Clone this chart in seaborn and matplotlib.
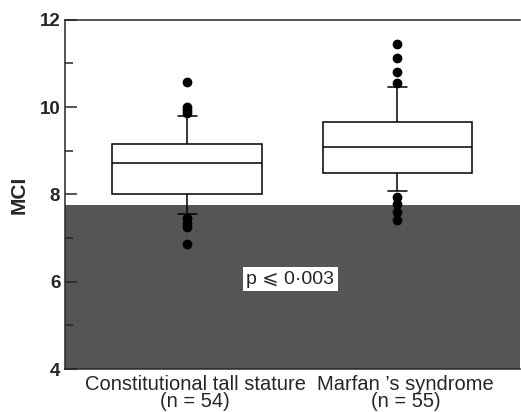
import numpy as np
import pandas as pd
import matplotlib
matplotlib.use("Agg")
import matplotlib.pyplot as plt
import matplotlib.transforms as mtransforms
import seaborn as sns

# 値は図から読み取った推定値（並べ替え済み、41点ずつ）
groups = ["Constitutional tall stature\n(n = 54)", "Marfan \u2019s syndrome\n(n = 55)"]

tall_stature = [
    6.86, 7.25, 7.35, 7.45,
    7.55,
    7.64, 7.74, 7.83, 7.90, 7.96,
    8.00,
    8.06, 8.14, 8.22, 8.30, 8.38, 8.46, 8.54, 8.61, 8.67,
    8.72,
    8.76, 8.80, 8.85, 8.90, 8.95, 9.00, 9.04, 9.08, 9.12,
    9.15,
    9.25, 9.36, 9.48, 9.60, 9.70,
    9.79,
    9.86, 9.93, 10.00, 10.58,
]

marfan = [
    7.42, 7.60, 7.78, 7.95,
    8.08,
    8.16, 8.24, 8.32, 8.39, 8.45,
    8.49,
    8.55, 8.61, 8.68, 8.74, 8.80, 8.87, 8.94, 9.00, 9.05,
    9.09,
    9.14, 9.20, 9.26, 9.32, 9.38, 9.44, 9.51, 9.57, 9.62,
    9.67,
    9.80, 9.93, 10.07, 10.21, 10.35,
    10.46,
    10.55, 10.81, 11.13, 11.44,
]

shade_top = 7.76
p_text = "p \u2a7d 0\u00b7003"

df = pd.DataFrame({
    "group": [groups[0]] * len(tall_stature) + [groups[1]] * len(marfan),
    "MCI": tall_stature + marfan,
})

sns.set_style("ticks")
plt.rcParams["font.family"] = ["Liberation Sans", "DejaVu Sans"]

fig = plt.figure(figsize=(5.21, 4.12), dpi=100)
ax = fig.add_axes([0.125, 0.104, 0.874, 0.848])

# 網掛け領域
ax.axhspan(4, shade_top, color="#555555", zorder=0, lw=0)

sns.boxplot(
    data=df, x="group", y="MCI", ax=ax,
    whis=(10, 90), width=0.71,
    color="white", linecolor="black", linewidth=1.1,
    flierprops=dict(marker="o", markerfacecolor="black",
                    markeredgecolor="black", markersize=6),
    capwidths=0.09,
)

ax.set_xlim(-0.58, 1.585)
ax.set_ylim(4, 12)
ax.set_yticks([4, 6, 8, 10, 12])
ax.set_yticks([5, 7, 9, 11], minor=True)
ax.tick_params(axis="y", which="major", direction="in", length=8.5, width=1.1,
               labelsize=13.5)
ax.tick_params(axis="y", which="minor", direction="in", length=5.5, width=1.1)
for lab in ax.get_yticklabels():
    lab.set_fontweight("bold")
ax.tick_params(axis="x", length=0, labelsize=14.5, pad=4)
shift = mtransforms.ScaledTranslation(0.08, 0, fig.dpi_scale_trans)
for lab in ax.get_xticklabels():
    lab.set_linespacing(0.9)
    lab.set_transform(lab.get_transform() + shift)

ax.set_xlabel("")
ax.set_ylabel("MCI", fontsize=15, fontweight="bold", labelpad=8)

ax.text(0.49, 6.06, p_text, fontsize=14, ha="center", va="center",
        bbox=dict(facecolor="white", edgecolor="none", pad=2.5), zorder=5)

for side in ["left", "top", "bottom"]:
    ax.spines[side].set_linewidth(1.1)
ax.spines["right"].set_visible(False)

fig.savefig("out.png", dpi=100)
